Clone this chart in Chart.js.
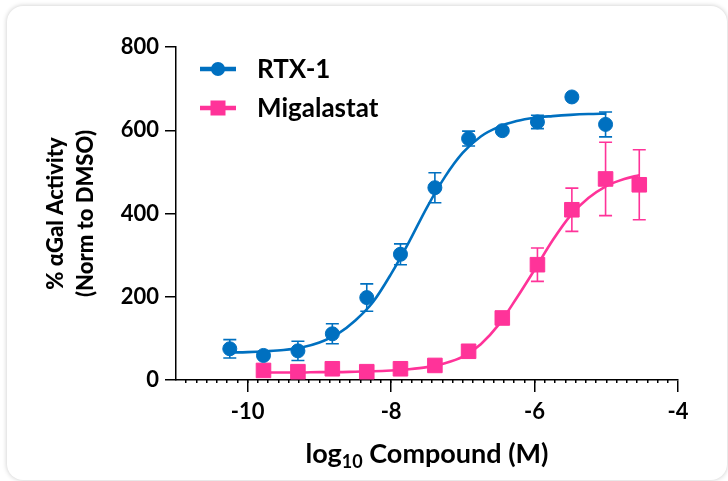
<!DOCTYPE html>
<html>
<head>
<meta charset="utf-8">
<script src="https://cdn.jsdelivr.net/npm/chart.js@4"></script>
<style>
  html, body { margin:0; padding:0; background:#fff; width:728px; height:481px; overflow:hidden; }
  .card { position:absolute; left:7px; top:6px; width:720px; height:474px; border-radius:16px; background:#fff; box-shadow:0 0 5px rgba(0,0,0,0.22); }
  #wrap { position:absolute; left:0; top:0; width:728px; height:481px; }
</style>
</head>
<body>
<div class="card"></div>
<div id="wrap"><canvas id="chart" width="728" height="481"></canvas></div>
<script>
const BLUE = '#0070C0';
const PINK = '#FF3399';
const FONT = "Lato, 'Open Sans', 'DejaVu Sans', sans-serif";

// measured points (log10 M, % activity, error)
const rtxDose = [-10.25, -9.78, -9.30, -8.82, -8.34, -7.87, -7.39, -6.92, -6.45, -5.96, -5.48, -5.01];
const rtxMean = [75, 59, 70, 111, 198, 302, 462, 580, 599, 620, 680, 614];
const rtxErr  = [22, 6, 23, 24, 33, 25, 36, 18, 5, 16, 4, 30];

const migDose = [-9.78, -9.30, -8.82, -8.34, -7.87, -7.39, -6.92, -6.45, -5.96, -5.48, -5.01, -4.54];
const migMean = [23, 20, 27, 20, 27, 35, 69, 149, 277, 409, 483, 469];
const migErr  = [5, 4, 5, 4, 6, 8, 12, 15, 40, 52, 88, 84];

// fitted curves
const rtxFitX = [-10.25, -10, -9.75, -9.5, -9.25, -9, -8.75, -8.5, -8.25, -8, -7.75, -7.5, -7.25, -7, -6.75, -6.5, -6.25, -6, -5.75, -5.5, -5.25, -5.0];
const rtxFitY = [66, 67, 69, 72, 78, 90, 110, 143, 188, 255, 332, 415, 488, 546, 585, 608, 622, 630, 634, 637, 639, 640];

const migFitX = [-9.78, -9.5, -9.25, -9, -8.75, -8.5, -8.25, -8, -7.75, -7.5, -7.25, -7, -6.75, -6.5, -6.25, -6, -5.75, -5.5, -5.25, -5, -4.75, -4.54];
const migFitY = [18, 18, 18, 19, 19, 20, 21, 23, 26, 31, 40, 56, 86, 133, 197, 265, 335, 395, 437, 466, 483, 492];

const seriesNames = ['RTX-1', 'Migalastat'];
const xTickValues = [-10, -8, -6, -4];
const yTickStep = 200;

const zip = (xs, ys) => xs.map((v, i) => ({ x: v, y: ys[i] }));

// vertical error bars with caps, drawn under the markers
const errorBars = {
  id: 'errorBars',
  beforeDatasetsDraw(chart) {
    const { ctx, scales: { x, y } } = chart;
    const sets = [[rtxDose, rtxMean, rtxErr, BLUE], [migDose, migMean, migErr, PINK]];
    ctx.save();
    ctx.lineWidth = 1.6;
    sets.forEach(([xs, ms, es, col]) => {
      ctx.strokeStyle = col;
      xs.forEach((xv, i) => {
        const px = x.getPixelForValue(xv);
        const top = y.getPixelForValue(ms[i] + es[i]);
        const bot = y.getPixelForValue(ms[i] - es[i]);
        ctx.beginPath();
        ctx.moveTo(px, top); ctx.lineTo(px, bot);
        ctx.moveTo(px - 6.5, top); ctx.lineTo(px + 6.5, top);
        ctx.moveTo(px - 6.5, bot); ctx.lineTo(px + 6.5, bot);
        ctx.stroke();
      });
    });
    ctx.restore();
  }
};

// legend inside the plot + x title with subscript
const extras = {
  id: 'extras',
  afterDraw(chart) {
    const { ctx, chartArea } = chart;
    ctx.save();
    // legend
    const lx = chartArea.left + 24, rows = [chartArea.top + 22, chartArea.top + 61];
    [BLUE, PINK].forEach((col, i) => {
      const yy = rows[i];
      ctx.strokeStyle = col; ctx.fillStyle = col; ctx.lineWidth = 4.5;
      ctx.beginPath(); ctx.moveTo(lx, yy); ctx.lineTo(lx + 36, yy); ctx.stroke();
      if (i === 0) { ctx.beginPath(); ctx.arc(lx + 18, yy, 7, 0, Math.PI * 2); ctx.fill(); }
      else ctx.fillRect(lx + 18 - 7.5, yy - 7.5, 15, 15);
      ctx.fillStyle = '#000';
      ctx.font = 'bold 26px ' + FONT;
      ctx.textBaseline = 'middle';
      ctx.fillText(seriesNames[i], lx + 57, yy + 1);
    });
    // x title: log10 Compound (M)
    const big = 'bold 27px ' + FONT, small = 'bold 18px ' + FONT;
    ctx.textBaseline = 'alphabetic';
    ctx.font = big; const w1 = ctx.measureText('log').width, w3 = ctx.measureText(' Compound (M)').width;
    ctx.font = small; const w2 = ctx.measureText('10').width;
    let sx = (chartArea.left + chartArea.right) / 2 - (w1 + w2 + w3) / 2;
    const base = 463;
    ctx.fillStyle = '#000';
    ctx.font = big; ctx.fillText('log', sx, base); sx += w1;
    ctx.font = small; ctx.fillText('10', sx, base + 5); sx += w2;
    ctx.font = big; ctx.fillText(' Compound (M)', sx, base);
    ctx.restore();
  }
};

new Chart(document.getElementById('chart'), {
  type: 'scatter',
  data: {
    datasets: [
      { label: seriesNames[0], data: zip(rtxDose, rtxMean), order: 1,
        pointStyle: 'circle', pointRadius: 7, pointBackgroundColor: BLUE, pointBorderColor: BLUE, pointBorderWidth: 1 },
      { label: seriesNames[1], data: zip(migDose, migMean), order: 1,
        pointStyle: 'rect', pointRadius: 10.3, pointBackgroundColor: PINK, pointBorderColor: PINK, pointBorderWidth: 1 },
      { label: 'RTX-1 fit', data: zip(rtxFitX, rtxFitY), order: 2, showLine: true, pointRadius: 0,
        borderColor: BLUE, borderWidth: 2.6, cubicInterpolationMode: 'monotone' },
      { label: 'Migalastat fit', data: zip(migFitX, migFitY), order: 2, showLine: true, pointRadius: 0,
        borderColor: PINK, borderWidth: 2.6, cubicInterpolationMode: 'monotone' }
    ]
  },
  options: {
    responsive: false,
    animation: false,
    layout: { padding: { left: 40, top: 47, right: 50, bottom: 0 } },
    plugins: { legend: { display: false }, tooltip: { enabled: false } },
    scales: {
      x: {
        type: 'linear', position: 'bottom', min: -11, max: -4, weight: 0,
        afterBuildTicks: s => { s.ticks = xTickValues.map(v => ({ value: v })); },
        afterFit: s => { s.height = 101; },
        border: { color: '#000', width: 1.5 },
        grid: { drawOnChartArea: false, drawTicks: true, tickLength: 12, color: '#000', lineWidth: 1.5 },
        ticks: { color: '#000', font: { family: FONT, size: 22, weight: 'bold' }, padding: 7 }
      },
      xMinor: {
        type: 'linear', position: 'bottom', min: -11, max: -4, weight: -1,
        afterBuildTicks: s => {
          const t = [];
          for (let k = 1; k < 49; k++) t.push({ value: -11 + k / 7 });
          s.ticks = t;
        },
        afterFit: s => { s.height = 0; },
        border: { display: false },
        grid: { drawOnChartArea: false, drawTicks: true, tickLength: 3, color: '#000', lineWidth: 1.5 },
        ticks: { display: false }
      },
      y: {
        min: 0, max: 800,
        afterFit: s => { s.width = 136; },
        border: { color: '#000', width: 1.5 },
        grid: { drawOnChartArea: false, drawTicks: true, tickLength: 11, color: '#000', lineWidth: 1.5 },
        ticks: { stepSize: yTickStep, color: '#000', font: { family: FONT, size: 22, weight: 'bold' }, padding: 6 },
        title: { display: true, text: ['% αGal Activity', '(Norm to DMSO)'], color: '#000',
          font: { family: FONT, size: 22, weight: 900, lineHeight: 1.36 }, padding: { top: 1, bottom: 0 } }
      }
    }
  },
  plugins: [errorBars, extras]
});
</script>
</body>
</html>
